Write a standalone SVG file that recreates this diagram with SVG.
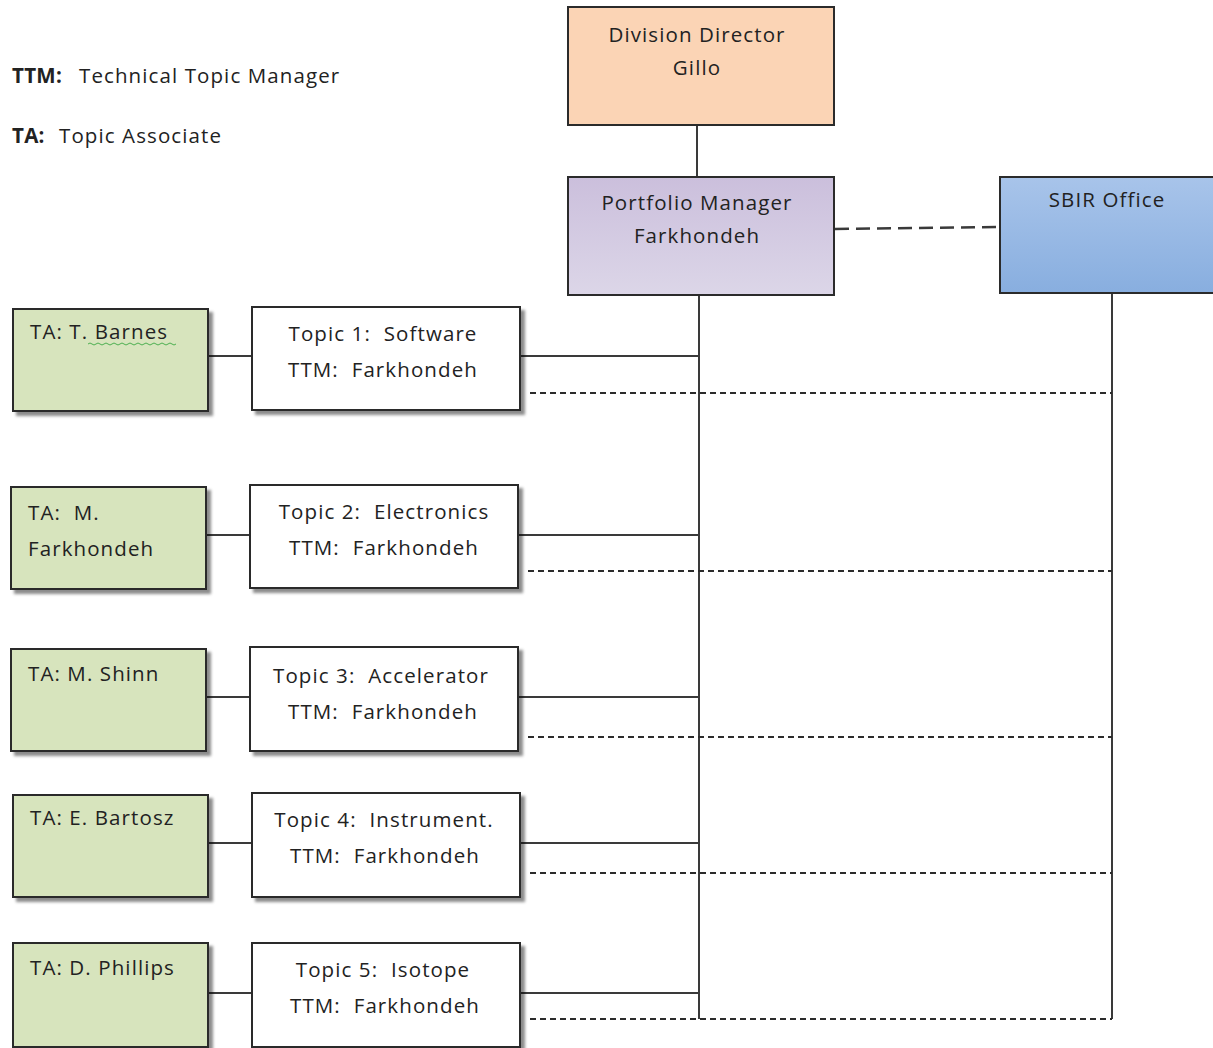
<svg xmlns="http://www.w3.org/2000/svg" width="1213" height="1048" viewBox="0 0 1213 1048">
<style>
text{font-family:"Open Sans","Liberation Sans",Arial,sans-serif;font-size:20.5px;letter-spacing:1.1px;fill:#222;white-space:pre}
.c{text-anchor:middle}
.b{font-weight:bold;letter-spacing:0.3px}
.box{stroke:#2b2b2b;stroke-width:2}
.ta{fill:#d7e4bd}
.tp{fill:#ffffff}
.ln{stroke:#3a3a3a;stroke-width:2;fill:none}
.dl{stroke:#2b2b2b;stroke-width:2;fill:none;stroke-dasharray:6 4}
.ld{stroke:#3a3a3a;stroke-width:2.5;fill:none;stroke-dasharray:14 7}
</style>
<defs>
<filter id="sh" x="-10%" y="-10%" width="130%" height="130%">
<feDropShadow dx="4" dy="4" stdDeviation="1.5" flood-color="#000" flood-opacity="0.45"/>
</filter>
<linearGradient id="gp" x1="0" y1="0" x2="0" y2="1"><stop offset="0" stop-color="#cbbfdc"/><stop offset="1" stop-color="#dcd6e8"/></linearGradient>
<linearGradient id="gb" x1="0" y1="0" x2="0" y2="1"><stop offset="0" stop-color="#a8c4ea"/><stop offset="1" stop-color="#88aedf"/></linearGradient>
</defs>
<rect width="1213" height="1048" fill="#fff"/>

<g id="legend">
<text x="12" y="83" class="b">TTM:</text><text x="79" y="83">Technical Topic Manager</text>
<text x="12" y="143" class="b">TA:</text><text x="59" y="143">Topic Associate</text>
</g>

<g id="connectors">
<line class="ln" x1="697" y1="125" x2="697" y2="177"/>
<line class="ld" x1="835" y1="229" x2="1000" y2="227"/>
<line class="ln" x1="699" y1="295" x2="699" y2="1019"/>
<line class="ln" x1="1112" y1="293" x2="1112" y2="1019"/>
<line class="ln" x1="208" y1="356" x2="252" y2="356"/>
<line class="ln" x1="520" y1="356" x2="699" y2="356"/>
<line class="dl" x1="530" y1="393" x2="1112" y2="393"/>
<line class="ln" x1="206" y1="535" x2="250" y2="535"/>
<line class="ln" x1="518" y1="535" x2="699" y2="535"/>
<line class="dl" x1="528" y1="571" x2="1112" y2="571"/>
<line class="ln" x1="206" y1="697" x2="250" y2="697"/>
<line class="ln" x1="518" y1="697" x2="699" y2="697"/>
<line class="dl" x1="528" y1="737" x2="1112" y2="737"/>
<line class="ln" x1="208" y1="843" x2="252" y2="843"/>
<line class="ln" x1="520" y1="843" x2="699" y2="843"/>
<line class="dl" x1="530" y1="873" x2="1112" y2="873"/>
<line class="ln" x1="208" y1="993" x2="252" y2="993"/>
<line class="ln" x1="520" y1="993" x2="699" y2="993"/>
<line class="dl" x1="530" y1="1019" x2="1112" y2="1019"/>
</g>

<g id="director">
<rect class="box" x="568" y="7" width="266" height="118" fill="#fbd4b5"/>
<text x="697" y="42" class="c">Division Director</text>
<text x="697" y="75" class="c">Gillo</text>
</g>
<g id="portfolio">
<rect class="box" x="568" y="177" width="266" height="118" fill="url(#gp)"/>
<text x="697" y="210" class="c">Portfolio Manager</text>
<text x="697" y="243" class="c">Farkhondeh</text>
</g>
<g id="sbir">
<rect class="box" x="1000" y="177" width="220" height="116" fill="url(#gb)"/>
<text x="1107" y="207" class="c">SBIR Office</text>
</g>

<g id="ta1">
<rect class="box ta" x="13" y="309" width="195" height="102" filter="url(#sh)"/>
<text x="30" y="339">TA: T. Barnes</text>
<path d="M88 344 q2 -2 4 0 t4 0 t4 0 t4 0 t4 0 t4 0 t4 0 t4 0 t4 0 t4 0 t4 0 t4 0 t4 0 t4 0 t4 0 t4 0 t4 0 t4 0 t4 0 t4 0 t4 0 t4 0" stroke="#4caf50" stroke-width="1" fill="none"/>
</g>
<g id="topic1">
<rect class="box tp" x="252" y="307" width="268" height="103" filter="url(#sh)"/>
<text x="383" y="341" class="c">Topic 1:  Software</text>
<text x="383" y="377" class="c">TTM:  Farkhondeh</text>
</g>

<g id="ta2">
<rect class="box ta" x="11" y="487" width="195" height="102" filter="url(#sh)"/>
<text x="28" y="520">TA:  M.</text>
<text x="28" y="556">Farkhondeh</text>
</g>
<g id="topic2">
<rect class="box tp" x="250" y="485" width="268" height="103" filter="url(#sh)"/>
<text x="384" y="519" class="c">Topic 2:  Electronics</text>
<text x="384" y="555" class="c">TTM:  Farkhondeh</text>
</g>

<g id="ta3">
<rect class="box ta" x="11" y="649" width="195" height="102" filter="url(#sh)"/>
<text x="28" y="681">TA: M. Shinn</text>
</g>
<g id="topic3">
<rect class="box tp" x="250" y="647" width="268" height="104" filter="url(#sh)"/>
<text x="381" y="683" class="c">Topic 3:  Accelerator</text>
<text x="383" y="719" class="c">TTM:  Farkhondeh</text>
</g>

<g id="ta4">
<rect class="box ta" x="13" y="795" width="195" height="102" filter="url(#sh)"/>
<text x="30" y="825">TA: E. Bartosz</text>
</g>
<g id="topic4">
<rect class="box tp" x="252" y="793" width="268" height="104" filter="url(#sh)"/>
<text x="384" y="827" class="c">Topic 4:  Instrument.</text>
<text x="385" y="863" class="c">TTM:  Farkhondeh</text>
</g>

<g id="ta5">
<rect class="box ta" x="13" y="943" width="195" height="104" filter="url(#sh)"/>
<text x="30" y="975">TA: D. Phillips</text>
</g>
<g id="topic5">
<rect class="box tp" x="252" y="943" width="268" height="104" filter="url(#sh)"/>
<text x="383" y="977" class="c">Topic 5:  Isotope</text>
<text x="385" y="1013" class="c">TTM:  Farkhondeh</text>
</g>
</svg>
